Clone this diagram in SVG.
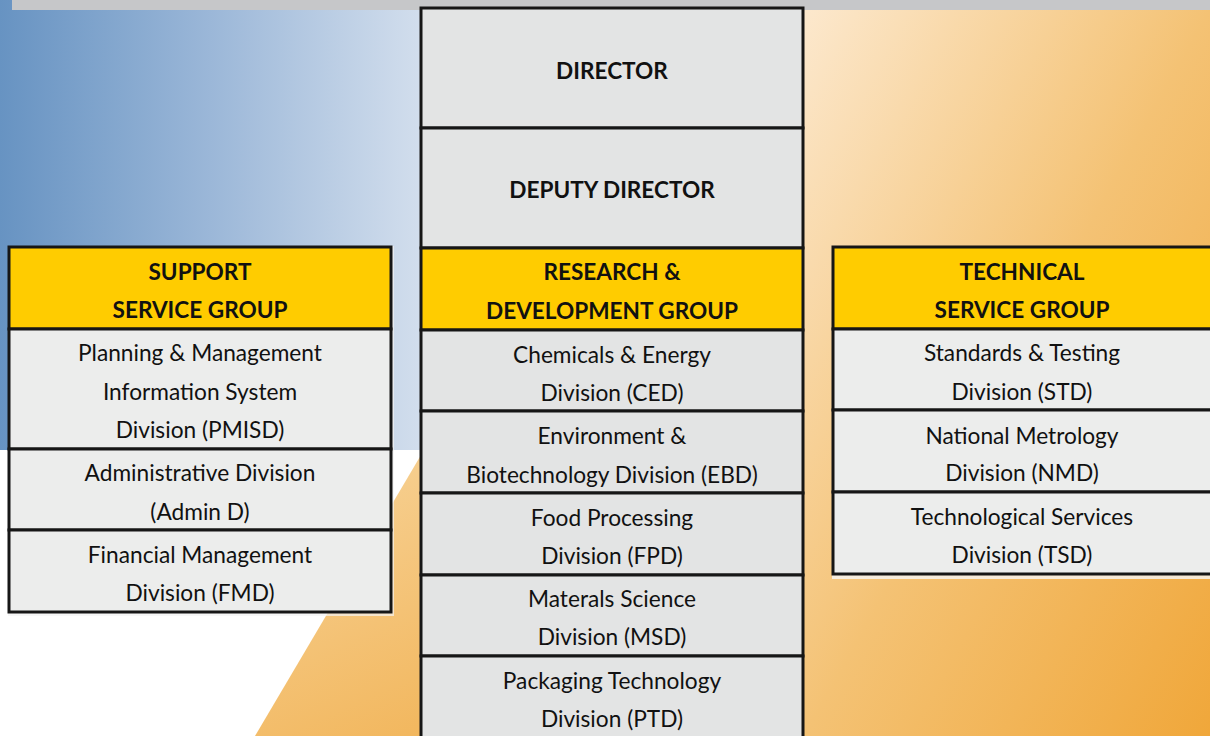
<svg xmlns="http://www.w3.org/2000/svg" width="1210" height="736" viewBox="0 0 1210 736">
<defs>
<linearGradient id="blue" x1="0" y1="0" x2="1" y2="0">
<stop offset="0" stop-color="#6793c2"/>
<stop offset="0.5" stop-color="#9bb7d8"/>
<stop offset="1" stop-color="#d2deed"/>
</linearGradient>
<linearGradient id="orange" gradientUnits="userSpaceOnUse" x1="805" y1="10" x2="1423" y2="355">
<stop offset="0" stop-color="#fce8cd"/>
<stop offset="0.5" stop-color="#f4c274"/>
<stop offset="1" stop-color="#f0a73a"/>
</linearGradient>
<linearGradient id="orange2" gradientUnits="userSpaceOnUse" x1="300" y1="460" x2="421" y2="736">
<stop offset="0" stop-color="#f7d296"/>
<stop offset="1" stop-color="#f2b75e"/>
</linearGradient>
<style>
.box{stroke:#161616;stroke-width:3}
.g1{fill:#e3e4e4}
.g2{fill:#ecedec}
.hd{fill:#ffcc00}
text{font-family:Lato,"Open Sans","Liberation Sans",sans-serif;fill:#111;text-anchor:middle}
.t{font-size:22.7px}
.b{font-size:22.6px;font-weight:bold}
</style>
</defs>
<g id="background">
<rect x="0" y="0" width="1210" height="736" fill="#ffffff"/>
<rect x="0" y="0" width="421" height="450" fill="url(#blue)"/>
<rect x="803" y="0" width="407" height="736" fill="url(#orange)"/>
<polygon points="255,736 421,455 421,736" fill="url(#orange2)"/>
<rect x="12" y="0" width="1198" height="10" fill="#c6c7c9"/>
</g>
<g id="connectors"/>
<g id="director">
<rect class="box g1" x="421" y="8" width="382" height="120"/>
<text class="b" x="612" y="79">DIRECTOR</text>
</g>
<g id="deputy-director">
<rect class="box g1" x="421" y="128" width="382" height="120"/>
<text class="b" x="612" y="198">DEPUTY DIRECTOR</text>
</g>
<g id="rd-group">
<rect class="box hd" x="421" y="248" width="382" height="82"/>
<text class="b" x="612" y="280">RESEARCH &amp;</text>
<text class="b" x="612" y="319">DEVELOPMENT GROUP</text>
</g>
<g id="ced">
<rect class="box g1" x="421" y="330" width="382" height="81"/>
<text class="t" x="612" y="363">Chemicals &amp; Energy</text>
<text class="t" x="612" y="401">Division (CED)</text>
</g>
<g id="ebd">
<rect class="box g1" x="421" y="411" width="382" height="82"/>
<text class="t" x="612" y="444">Environment &amp;</text>
<text class="t" x="612" y="483">Biotechnology Division (EBD)</text>
</g>
<g id="fpd">
<rect class="box g1" x="421" y="493" width="382" height="82"/>
<text class="t" x="612" y="526">Food Processing</text>
<text class="t" x="612" y="564">Division (FPD)</text>
</g>
<g id="msd">
<rect class="box g1" x="421" y="575" width="382" height="81"/>
<text class="t" x="612" y="607">Materals Science</text>
<text class="t" x="612" y="645">Division (MSD)</text>
</g>
<g id="ptd">
<rect class="box g1" x="421" y="656" width="382" height="90"/>
<text class="t" x="612" y="689">Packaging Technology</text>
<text class="t" x="612" y="727">Division (PTD)</text>
</g>
<g id="support-group">
<rect x="8" y="246" width="386" height="370" fill="#f4f4f4" opacity="0.7"/>
<rect class="box hd" x="9" y="247" width="382" height="82"/>
<text class="b" x="200" y="280">SUPPORT</text>
<text class="b" x="200" y="318">SERVICE GROUP</text>
</g>
<g id="pmisd">
<rect class="box g2" x="9" y="329" width="382" height="120"/>
<text class="t" x="200" y="361">Planning &amp; Management</text>
<text class="t" x="200" y="400">Information System</text>
<text class="t" x="200" y="438">Division (PMISD)</text>
</g>
<g id="admind">
<rect class="box g2" x="9" y="449" width="382" height="81"/>
<text class="t" x="200" y="481">Administrative Division</text>
<text class="t" x="200" y="520">(Admin D)</text>
</g>
<g id="fmd">
<rect class="box g2" x="9" y="530" width="382" height="82"/>
<text class="t" x="200" y="563">Financial Management</text>
<text class="t" x="200" y="601">Division (FMD)</text>
</g>
<g id="technical-group">
<rect x="832" y="246" width="390" height="333" fill="#f6f6f6" opacity="0.8"/>
<rect class="box hd" x="833" y="247" width="382" height="82"/>
<text class="b" x="1022" y="280">TECHNICAL</text>
<text class="b" x="1022" y="318">SERVICE GROUP</text>
</g>
<g id="std">
<rect class="box g2" x="833" y="329" width="382" height="81"/>
<text class="t" x="1022" y="361">Standards &amp; Testing</text>
<text class="t" x="1022" y="400">Division (STD)</text>
</g>
<g id="nmd">
<rect class="box g2" x="833" y="410" width="382" height="82"/>
<text class="t" x="1022" y="444">National Metrology</text>
<text class="t" x="1022" y="481">Division (NMD)</text>
</g>
<g id="tsd">
<rect class="box g2" x="833" y="492" width="382" height="82"/>
<text class="t" x="1022" y="525">Technological Services</text>
<text class="t" x="1022" y="563">Division (TSD)</text>
</g>
</svg>
